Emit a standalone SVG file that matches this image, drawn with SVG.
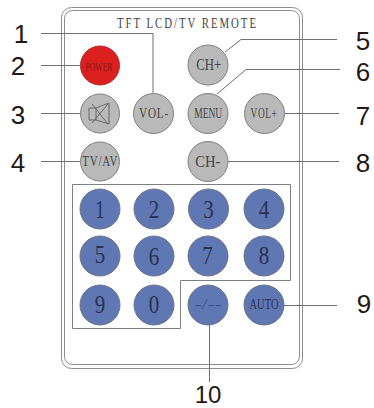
<svg xmlns="http://www.w3.org/2000/svg" width="374" height="408" viewBox="0 0 374 408">
<style>
.body{fill:none;stroke:#8c8c8c;stroke-width:1}
.leader{fill:none;stroke:#6f6f6f;stroke-width:1}
.gray{fill:#b9b9b9;stroke:#7f7f7f;stroke-width:1}
.blue{fill:#5f77b3;stroke:#6d7688;stroke-width:1}
.red{fill:#dc201f;stroke:#b03030;stroke-width:1}
.num{font-family:"Liberation Sans",Arial,sans-serif;font-size:26px;fill:#231815;text-anchor:middle}
.btn{font-family:"Liberation Serif","Times New Roman",serif;fill:#444;text-anchor:middle}
.cap{font-size:14px;letter-spacing:1px}
.key{font-size:25px;fill:#2a3350}
</style>
<rect fill="#fff" width="374" height="408"/>
<g id="remote-body">
<rect class="body" x="61.5" y="7.5" width="241" height="361" rx="10"/>
<rect class="body" x="64.5" y="10.5" width="235" height="354" rx="8"/>
<text class="btn" x="187.500" y="28" font-size="14" letter-spacing="2.500" textLength="141" lengthAdjust="spacingAndGlyphs">TFT LCD/TV REMOTE</text>
</g>
<g id="keypad-frame"><path d="M72.5 184.5H290.5V280.5H180.5V328.5H72.5Z" fill="none" stroke="#7f7f7f"/></g>
<g id="connectors">
<path class="leader" d="M41 33.5H153V93"/>
<path class="leader" d="M41 65.5H80"/>
<path class="leader" d="M41 113.5H80"/>
<path class="leader" d="M41 161.5H80"/>
<path class="leader" d="M337 39.5H241L225 52"/>
<path class="leader" d="M340 69.5H246L217 94"/>
<path class="leader" d="M339 113.5H285"/>
<path class="leader" d="M339 161.5H228"/>
<path class="leader" d="M337 305.5H284"/>
<path class="leader" d="M209.500 325V382"/>
</g>
<g id="btn-power"><circle class="red" cx="100" cy="65.500" r="19.500"/><text class="btn" x="99" y="70.500" font-size="12" textLength="27" lengthAdjust="spacingAndGlyphs" style="fill:#8a1a1a">POWER</text></g>
<g id="btn-mute"><circle class="gray" cx="100" cy="113.500" r="19.500"/><path d="M89 108H96V120H89ZM96 108L109 103V124L96 120M92 104L108 124M92 123L108 104" fill="none" stroke="#555" stroke-width="0.8"/></g>
<g id="btn-vol-minus"><circle class="gray" cx="153.500" cy="113.500" r="20"/><text class="btn cap" x="154" y="117.700" textLength="30" lengthAdjust="spacingAndGlyphs">VOL-</text></g>
<g id="btn-tvav"><circle class="gray" cx="100" cy="161.500" r="19.500"/><text class="btn cap" x="100.300" y="165.700" textLength="36" lengthAdjust="spacingAndGlyphs">TV/AV</text></g>
<g id="btn-ch-plus"><circle class="gray" cx="208" cy="65" r="20"/><text class="btn" x="208.800" y="70" font-size="16" textLength="25" lengthAdjust="spacingAndGlyphs">CH+</text></g>
<g id="btn-menu"><circle class="gray" cx="208" cy="113.500" r="20"/><text class="btn" x="208.200" y="118.300" font-size="14" textLength="28" lengthAdjust="spacingAndGlyphs">MENU</text></g>
<g id="btn-vol-plus"><circle class="gray" cx="264.500" cy="113.500" r="20"/><text class="btn cap" x="264" y="118" textLength="27" lengthAdjust="spacingAndGlyphs">VOL+</text></g>
<g id="btn-ch-minus"><circle class="gray" cx="208" cy="161.500" r="20"/><text class="btn" x="207.800" y="166.700" font-size="16" textLength="25" lengthAdjust="spacingAndGlyphs">CH-</text></g>
<g id="key-1"><circle class="blue" cx="100" cy="209" r="20"/><text class="btn key" x="100" y="218" textLength="9" lengthAdjust="spacingAndGlyphs">1</text></g>
<g id="key-2"><circle class="blue" cx="154" cy="209" r="20"/><text class="btn key" x="154" y="218" textLength="10.500" lengthAdjust="spacingAndGlyphs">2</text></g>
<g id="key-3"><circle class="blue" cx="208.500" cy="209" r="20"/><text class="btn key" x="208.500" y="218" textLength="10.500" lengthAdjust="spacingAndGlyphs">3</text></g>
<g id="key-4"><circle class="blue" cx="264" cy="209" r="20"/><text class="btn key" x="264" y="218" textLength="10.500" lengthAdjust="spacingAndGlyphs">4</text></g>
<g id="key-5"><circle class="blue" cx="100" cy="256" r="20"/><text class="btn key" x="100" y="262.500" textLength="10.500" lengthAdjust="spacingAndGlyphs">5</text></g>
<g id="key-6"><circle class="blue" cx="154" cy="256" r="20"/><text class="btn key" x="154" y="265" textLength="10.500" lengthAdjust="spacingAndGlyphs">6</text></g>
<g id="key-7"><circle class="blue" cx="208" cy="256" r="20"/><text class="btn key" x="207.500" y="264" textLength="10.500" lengthAdjust="spacingAndGlyphs">7</text></g>
<g id="key-8"><circle class="blue" cx="264" cy="256" r="20"/><text class="btn key" x="264" y="264" textLength="10.500" lengthAdjust="spacingAndGlyphs">8</text></g>
<g id="key-9"><circle class="blue" cx="100" cy="305" r="20"/><text class="btn key" x="100" y="313" textLength="10.500" lengthAdjust="spacingAndGlyphs">9</text></g>
<g id="key-0"><circle class="blue" cx="154" cy="305" r="20"/><text class="btn key" x="154" y="313" textLength="10.500" lengthAdjust="spacingAndGlyphs">0</text></g>
<g id="key-dash"><circle class="blue" cx="208" cy="305" r="20"/><text class="btn" x="208.300" y="309" font-size="14" textLength="27" lengthAdjust="spacingAndGlyphs" style="fill:#3f5285">-/--</text></g>
<g id="key-auto"><circle class="blue" cx="264" cy="305" r="20"/><text class="btn" x="264" y="309.300" font-size="14" textLength="29" lengthAdjust="spacingAndGlyphs" style="fill:#2a3350">AUTO</text></g>
<g id="labels">
<text class="num" x="21" y="43">1</text>
<text class="num" x="18" y="75">2</text>
<text class="num" x="18" y="124">3</text>
<text class="num" x="18" y="172">4</text>
<text class="num" x="363" y="50">5</text>
<text class="num" x="363" y="81">6</text>
<text class="num" x="363" y="125">7</text>
<text class="num" x="363" y="172">8</text>
<text class="num" x="364" y="313">9</text>
<text class="num" x="208" y="402.500" style="font-size:24px">10</text>
</g>
</svg>
